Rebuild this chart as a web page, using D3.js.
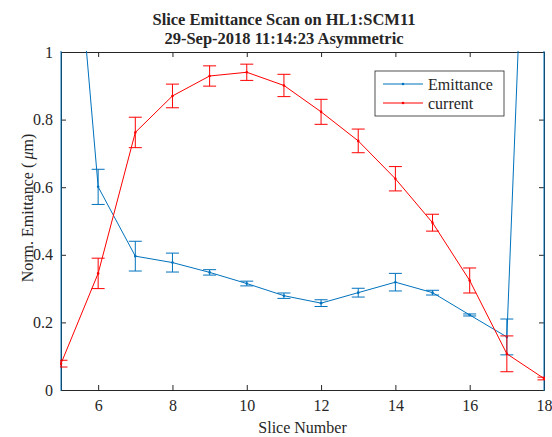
<!DOCTYPE html>
<html>
<head>
<meta charset="utf-8">
<script src="https://cdn.jsdelivr.net/npm/d3@7"></script>
<style>
  body { margin: 0; background: #fff; }
  svg text { font-family: 'Liberation Serif', 'Times New Roman', serif; fill: #262626; }
</style>
</head>
<body>
<div class="chart"></div>
<script>
var width = 552;
var height = 437;
var margin = {top: 52, right: 8, bottom: 47, left: 61};
var serif = "'Liberation Serif', 'Times New Roman', serif";

var slices = [5, 6, 7, 8, 9, 10, 11, 12, 13, 14, 15, 16, 17, 18];
// emittance goes off the chart at both ends
var emittance = [1.88, 0.601, 0.396, 0.377, 0.348, 0.315, 0.279, 0.257, 0.288, 0.319, 0.288, 0.222, 0.157, 2.95];
var emittanceErr = [3.0, 0.052, 0.044, 0.028, 0.008, 0.007, 0.008, 0.010, 0.013, 0.026, 0.007, 0.003, 0.053, 4.0];
var current = [0.078, 0.345, 0.762, 0.870, 0.929, 0.940, 0.901, 0.823, 0.737, 0.625, 0.495, 0.324, 0.107, 0.034];
var currentErr = [0.010, 0.045, 0.045, 0.035, 0.030, 0.024, 0.033, 0.037, 0.035, 0.036, 0.025, 0.037, 0.053, 0.004];
var xTicks = [6, 8, 10, 12, 14, 16, 18];
var yTicks = [0, 0.2, 0.4, 0.6, 0.8, 1];

var blue = "#0072BD";
var red = "#FF0000";
var axisColor = "#262626";

var svg = d3.select(".chart").append("svg").attr("width", width).attr("height", height);

var x = d3.scaleLinear().domain([5, 18]).range([margin.left, width - margin.right]);
var y = d3.scaleLinear().domain([0, 1]).range([height - margin.bottom, margin.top]);

svg.append("defs").append("clipPath").attr("id", "plot-clip")
  .append("rect")
  .attr("x", margin.left - 1)
  .attr("y", margin.top - 1)
  .attr("width", width - margin.left - margin.right + 2)
  .attr("height", height - margin.top - margin.bottom + 2);

/* axes: ticks point inward, box all round */
function styleAxis(g) {
  g.attr("font-family", serif).attr("font-size", 16);
  g.select(".domain").attr("stroke", axisColor);
  g.selectAll(".tick line").attr("stroke", axisColor);
  g.selectAll(".tick text").attr("fill", axisColor);
}

svg.append("g")
  .attr("transform", "translate(0," + (height - margin.bottom) + ")")
  .call(d3.axisBottom(x).tickValues(xTicks).tickSizeInner(-5).tickSizeOuter(0).tickPadding(10))
  .call(styleAxis);
svg.append("g")
  .attr("transform", "translate(0," + margin.top + ")")
  .call(d3.axisTop(x).tickValues(xTicks).tickSizeInner(-5).tickSizeOuter(0).tickFormat(""))
  .call(styleAxis);
svg.append("g")
  .attr("transform", "translate(" + margin.left + ",0)")
  .call(d3.axisLeft(y).tickValues(yTicks).tickSizeInner(-5).tickSizeOuter(0).tickPadding(8).tickFormat(d3.format("~g")))
  .call(styleAxis);
svg.append("g")
  .attr("transform", "translate(" + (width - margin.right) + ",0)")
  .call(d3.axisRight(y).tickValues(yTicks).tickSizeInner(-5).tickSizeOuter(0).tickFormat(""))
  .call(styleAxis);

var plot = svg.append("g").attr("clip-path", "url(#plot-clip)");

function drawSeries(values, errs, color) {
  var pts = slices.map(function(s, i) { return {x: s, y: values[i], e: errs[i]}; });
  var line = d3.line().x(function(d) { return x(d.x); }).y(function(d) { return y(d.y); });
  plot.append("path").datum(pts)
    .attr("fill", "none").attr("stroke", color).attr("stroke-width", 1)
    .attr("d", line);
  var cap = 6.5;
  var bars = plot.append("g").attr("stroke", color).attr("stroke-width", 1).attr("fill", "none");
  pts.forEach(function(d) {
    var x0 = x(d.x), yt = y(d.y + d.e), yb = y(d.y - d.e);
    bars.append("line").attr("x1", x0).attr("x2", x0).attr("y1", yt).attr("y2", yb);
    bars.append("line").attr("x1", x0 - cap).attr("x2", x0 + cap).attr("y1", yt).attr("y2", yt);
    bars.append("line").attr("x1", x0 - cap).attr("x2", x0 + cap).attr("y1", yb).attr("y2", yb);
  });
  plot.append("g").selectAll("circle").data(pts).enter().append("circle")
    .attr("cx", function(d) { return x(d.x); })
    .attr("cy", function(d) { return y(d.y); })
    .attr("r", 1.3).attr("fill", color);
}

drawSeries(emittance, emittanceErr, blue);
drawSeries(current, currentErr, red);

/* legend */
var legend = svg.append("g").attr("transform", "translate(375,71)");
legend.append("rect").attr("width", 129).attr("height", 45)
  .attr("fill", "#fff").attr("stroke", axisColor).attr("stroke-width", 0.8);
var entries = [{name: "Emittance", color: blue}, {name: "current", color: red}];
entries.forEach(function(d, i) {
  var ly = 13 + i * 19;
  legend.append("line").attr("x1", 8).attr("x2", 48).attr("y1", ly).attr("y2", ly)
    .attr("stroke", d.color).attr("stroke-width", 1);
  legend.append("circle").attr("cx", 28).attr("cy", ly).attr("r", 1.3).attr("fill", d.color);
  legend.append("text").attr("x", 53).attr("y", ly + 5.5)
    .attr("font-family", serif).attr("font-size", 16).text(d.name);
});

/* titles and labels */
svg.append("text").attr("x", 284).attr("y", 25).attr("text-anchor", "middle")
  .attr("font-family", serif).attr("font-size", 16.5).attr("font-weight", "bold")
  .text("Slice Emittance Scan on HL1:SCM11");
svg.append("text").attr("x", 284).attr("y", 44).attr("text-anchor", "middle")
  .attr("font-family", serif).attr("font-size", 16.5).attr("font-weight", "bold")
  .text("29-Sep-2018 11:14:23 Asymmetric");
svg.append("text").attr("x", (margin.left + width - margin.right) / 2).attr("y", 433)
  .attr("text-anchor", "middle").attr("font-family", serif).attr("font-size", 16)
  .text("Slice Number");
var yLabel = svg.append("text").attr("transform", "translate(33,208) rotate(-90)")
  .attr("text-anchor", "middle").attr("font-family", serif).attr("font-size", 16);
yLabel.append("tspan").text("Norm. Emittance (\u2009");
yLabel.append("tspan").attr("font-style", "italic").text("\u03bc");
yLabel.append("tspan").text("m)");
</script>
</body>
</html>
